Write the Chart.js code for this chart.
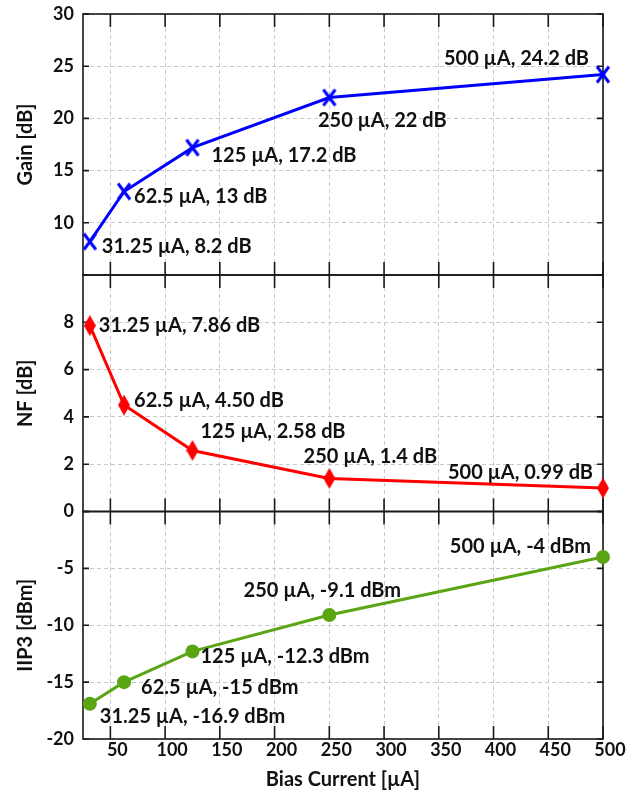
<!DOCTYPE html>
<html>
<head>
<meta charset="utf-8">
<script src="https://cdn.jsdelivr.net/npm/chart.js@4.4.0/dist/chart.umd.min.js"></script>
<style>
  html, body { margin: 0; padding: 0; background: #fff; }
  #grafico { display: block; }
</style>
</head>
<body>
<canvas id="grafico" width="639" height="794"></canvas>
<script>
// ── dados ─────────────────────────────────────────────
const biasCurrent = [31.25, 62.5, 125, 250, 500];
const gainDb      = [8.2, 13, 17.2, 22, 24.2];
const nfDb        = [7.86, 4.50, 2.58, 1.4, 0.99];
const iip3Dbm     = [-16.9, -15, -12.3, -9.1, -4];
const xTicks      = [50, 100, 150, 200, 250, 300, 350, 400, 450, 500];

const gainLabels = ['31.25 µA, 8.2 dB', '62.5 µA, 13 dB', '125 µA, 17.2 dB', '250 µA, 22 dB', '500 µA, 24.2 dB'];
const nfLabels   = ['31.25 µA, 7.86 dB', '62.5 µA, 4.50 dB', '125 µA, 2.58 dB', '250 µA, 1.4 dB', '500 µA, 0.99 dB'];
const iip3Labels = ['31.25 µA, -16.9 dBm', '62.5 µA, -15 dBm', '125 µA, -12.3 dBm', '250 µA, -9.1 dBm', '500 µA, -4 dBm'];

// deslocamento das anotações [dx, dy, alinhamento]
const gainPos = [[12, 5, 'left'], [10, 5, 'left'], [19, 8, 'left'], [53, 23, 'center'], [-14, -16, 'right']];
const nfPos   = [[9, 0, 'left'], [10, -5, 'left'], [8, -19, 'left'], [41, -22, 'center'], [-10, -16, 'right']];
const iip3Pos = [[10, 13, 'left'], [17, 5, 'left'], [8, 5, 'left'], [-7, -24, 'center'], [-12, -10, 'right']];

const FONTE = 'Lato';

// marcadores desenhados num canvas pequeno
function criarLosango(cor, w, h) {
  const c = document.createElement('canvas');
  c.width = w; c.height = h;
  const g = c.getContext('2d');
  g.fillStyle = cor;
  g.beginPath();
  g.moveTo(w / 2, 0); g.lineTo(w, h / 2); g.lineTo(w / 2, h); g.lineTo(0, h / 2);
  g.closePath(); g.fill();
  return c;
}

function criarXis(cor, w, h) {
  const c = document.createElement('canvas');
  c.width = w; c.height = h;
  const g = c.getContext('2d');
  g.strokeStyle = cor;
  g.lineWidth = 3;
  g.beginPath();
  g.moveTo(2, 2); g.lineTo(w - 2, h - 2);
  g.moveTo(w - 2, 2); g.lineTo(2, h - 2);
  g.stroke();
  return c;
}

const pontos = ys => biasCurrent.map((x, i) => ({ x, y: ys[i] }));

// moldura dos painéis + marcas internas + anotações
const moldura = {
  id: 'moldura',
  beforeDatasetsDraw(chart) {
    const { ctx, chartArea: a, scales } = chart;
    ctx.save();
    ctx.strokeStyle = '#1a1a1a';
    ctx.lineWidth = 1.6;
    ['yG', 'yN', 'yI'].forEach(id => {
      const s = scales[id];
      ctx.strokeRect(a.left, s.top, a.right - a.left, s.bottom - s.top);
      ctx.beginPath();
      xTicks.forEach(v => {
        const px = scales.x.getPixelForValue(v);
        ctx.moveTo(px, s.top);    ctx.lineTo(px, s.top + 13);
        ctx.moveTo(px, s.bottom); ctx.lineTo(px, s.bottom - 13);
      });
      s.ticks.forEach(t => {
        const py = s.getPixelForValue(t.value);
        ctx.moveTo(a.left, py);  ctx.lineTo(a.left + 6, py);
        ctx.moveTo(a.right, py); ctx.lineTo(a.right - 6, py);
      });
      ctx.stroke();
    });
    ctx.restore();
  },
  afterDatasetsDraw(chart) {
    const { ctx, scales } = chart;
    ctx.save();
    ctx.font = `bold 20px ${FONTE}`;
    ctx.fillStyle = '#111';
    ctx.textBaseline = 'middle';
    const anotar = (ys, textos, pos, eixo) => {
      ys.forEach((v, i) => {
        const px = scales.x.getPixelForValue(biasCurrent[i]);
        const py = scales[eixo].getPixelForValue(v);
        const [dx, dy, al] = pos[i];
        ctx.textAlign = al;
        ctx.fillText(textos[i], px + dx, py + dy);
      });
    };
    anotar(gainDb, gainLabels, gainPos, 'yG');
    anotar(nfDb, nfLabels, nfPos, 'yN');
    anotar(iip3Dbm, iip3Labels, iip3Pos, 'yI');
    ctx.restore();
  }
};

const fonteTick   = { family: FONTE, size: 18, weight: 'bold' };
const fonteTitulo = { family: FONTE, size: 20, weight: 'bold' };
const gradeY = { color: '#c9c9c9', lineWidth: 1, drawTicks: false };
const bordaY = { display: false, dash: [4, 3] };

function eixoY(titulo, min, max, passo, peso, ocultar) {
  return {
    type: 'linear', position: 'left', stack: 'paineis', stackWeight: peso,
    min, max,
    grid: gradeY, border: bordaY,
    ticks: { stepSize: passo, color: '#111', font: fonteTick, padding: 9, autoSkip: false,
             callback: v => (v === ocultar ? '' : v) },
    title: { display: true, text: titulo, color: '#111', font: fonteTitulo, padding: { top: 14, bottom: 0 } },
    afterFit: s => { s.width = 83; s.paddingTop = 0; s.paddingBottom = 0; },
  };
}

new Chart(document.getElementById('grafico'), {
  type: 'line',
  data: {
    datasets: [
      { data: pontos(iip3Dbm), yAxisID: 'yI', borderColor: '#5aa514', backgroundColor: '#5aa514', borderWidth: 3,
        pointStyle: 'circle', pointRadius: 7, pointBorderWidth: 0, pointBackgroundColor: '#5aa514', clip: false },
      { data: pontos(nfDb), yAxisID: 'yN', borderColor: '#ff0000', backgroundColor: '#ff0000', borderWidth: 3,
        pointStyle: criarLosango('#ff0000', 12, 21), clip: false },
      { data: pontos(gainDb), yAxisID: 'yG', borderColor: '#0000ff', backgroundColor: '#0000ff', borderWidth: 3,
        pointStyle: criarXis('#0000ff', 16, 20), clip: false },
    ],
  },
  options: {
    responsive: false, animation: false, devicePixelRatio: 1,
    layout: { padding: { top: 14, right: 36, left: 0, bottom: 0 } },
    plugins: { legend: { display: false }, tooltip: { enabled: false } },
    scales: {
      x: {
        type: 'linear', min: 25, max: 500,
        afterBuildTicks: s => { s.ticks = xTicks.map(v => ({ value: v })); },
        grid: { color: '#c9c9c9', lineWidth: 1, drawTicks: false },
        border: { display: false, dash: [4, 3] },
        ticks: { color: '#111', font: fonteTick, padding: 0, labelOffset: 7, maxRotation: 0, autoSkip: false },
        title: { display: true, text: 'Bias Current [µA]', color: '#111', font: fonteTitulo, padding: { top: 0, bottom: 2 } },
        afterFit: s => { s.height = 55; },
      },
      yI: eixoY('IIP3 [dBm]', -20, 0, 5, 227.5, 0),
      yN: eixoY('NF [dB]', 0, 10, 2, 236.5, 10),
      yG: eixoY('Gain [dB]', 5, 30, 5, 261, 5),
    },
  },
  plugins: [moldura],
});
</script>
</body>
</html>
